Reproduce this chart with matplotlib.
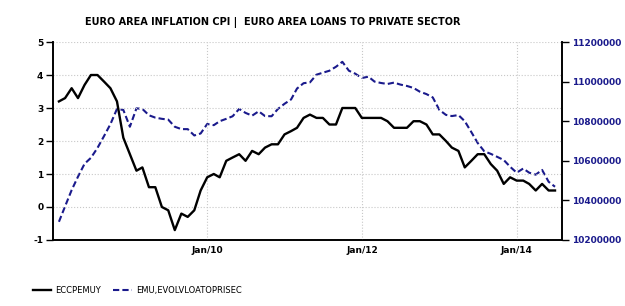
import matplotlib
matplotlib.use("Agg")
import matplotlib.pyplot as plt
import matplotlib.dates as mdates
from matplotlib.ticker import FuncFormatter
import pandas as pd

plt.rcParams["axes.unicode_minus"] = False

# monthly data, Jan 2008 - Jun 2014
months = pd.date_range("2008-01-31", periods=78, freq="ME")

cpi = [3.2, 3.3, 3.6, 3.3, 3.7, 4.0, 4.0, 3.8, 3.6, 3.2, 2.1, 1.6,
       1.1, 1.2, 0.6, 0.6, 0.0, -0.1, -0.7, -0.2, -0.3, -0.1, 0.5, 0.9,
       1.0, 0.9, 1.4, 1.5, 1.6, 1.4, 1.7, 1.6, 1.8, 1.9, 1.9, 2.2,
       2.3, 2.4, 2.7, 2.8, 2.7, 2.7, 2.5, 2.5, 3.0, 3.0, 3.0, 2.7,
       2.7, 2.7, 2.7, 2.6, 2.4, 2.4, 2.4, 2.6, 2.6, 2.5, 2.2, 2.2,
       2.0, 1.8, 1.7, 1.2, 1.4, 1.6, 1.6, 1.3, 1.1, 0.7, 0.9, 0.8,
       0.8, 0.7, 0.5, 0.7, 0.5, 0.5]

loans = [10292000, 10370000, 10452000, 10520000, 10585000, 10615000,
         10665000, 10725000, 10785000, 10862000, 10857000, 10772000,
         10865000, 10862000, 10830000, 10818000, 10812000, 10808000,
         10772000, 10760000, 10760000, 10728000, 10738000, 10786000,
         10780000, 10800000, 10812000, 10825000, 10862000, 10842000,
         10828000, 10850000, 10826000, 10825000, 10862000, 10888000,
         10910000, 10965000, 10992000, 10996000, 11035000, 11045000,
         11055000, 11075000, 11100000, 11055000, 11040000, 11018000,
         11025000, 11000000, 10993000, 10988000, 10995000, 10985000,
         10978000, 10968000, 10949000, 10937000, 10920000, 10857000,
         10832000, 10826000, 10831000, 10800000, 10745000, 10690000,
         10648000, 10635000, 10620000, 10604000, 10570000, 10540000,
         10561000, 10540000, 10530000, 10554000, 10494000, 10469000]

left_ticks = [-1, 0, 1, 2, 3, 4, 5]
right_ticks = [10200000, 10400000, 10600000, 10800000, 11000000, 11200000]
x_ticks = ["2010-01-01", "2012-01-01", "2014-01-01"]

blue = "#1a1a8c"

fig = plt.figure(figsize=(6.25, 3.06), dpi=100)
ax = fig.add_axes([0.0848, 0.2157, 0.8144, 0.647])
ax2 = ax.twinx()

ax.plot(months, cpi, color="black", lw=1.7, label="ECCPEMUY", zorder=3)
ax2.plot(months, loans, color=blue, lw=1.5, ls=(0, (3, 1.5)),
         label="EMU,EVOLVLOATOPRISEC")

ax.set_ylim(-1, 5)
ax.set_yticks(left_ticks)
ax2.set_ylim(10200000, 11200000)
ax2.set_yticks(right_ticks)
ax2.yaxis.set_major_formatter(FuncFormatter(lambda v, p: f"{int(round(v))}"))
ax.set_xlim(pd.Timestamp("2008-01-03"), pd.Timestamp("2014-08-02"))
ax.set_xticks(pd.to_datetime(x_ticks))
ax.xaxis.set_major_formatter(mdates.DateFormatter("Jan/%y"))

ax.grid(True, color="#c8c8c8", ls=":", lw=0.8)
ax.set_zorder(ax2.get_zorder() + 1)
ax.patch.set_visible(False)

for a in (ax, ax2):
    a.spines["top"].set_visible(False)
    for s in a.spines.values():
        s.set_linewidth(1.2)

ax.tick_params(axis="y", direction="out", length=5, width=1, pad=2,
               labelsize=6.5)
ax.tick_params(axis="x", length=0, pad=4, labelsize=6.5)
ax2.tick_params(axis="y", direction="out", length=5, width=1, pad=2,
                labelsize=6.5, labelcolor=blue)
for lab in ax.get_yticklabels() + ax.get_xticklabels() + ax2.get_yticklabels():
    lab.set_fontweight("bold")

fig.text(0.436, 0.925, "EURO AREA INFLATION CPI |  EURO AREA LOANS TO PRIVATE SECTOR",
         ha="center", va="center", fontsize=7, fontweight="bold",
         family=["Liberation Sans Narrow", "DejaVu Sans"])

h1, l1 = ax.get_legend_handles_labels()
h2, l2 = ax2.get_legend_handles_labels()
fig.legend(h1 + h2, l1 + l2, loc="center left", bbox_to_anchor=(0.04, 0.052),
           ncol=2, frameon=False, handlelength=2.2,
           handletextpad=0.5, columnspacing=1.5,
           prop={"family": ["Liberation Sans Narrow", "DejaVu Sans"], "size": 6})

fig.savefig("out.png", dpi=100)
